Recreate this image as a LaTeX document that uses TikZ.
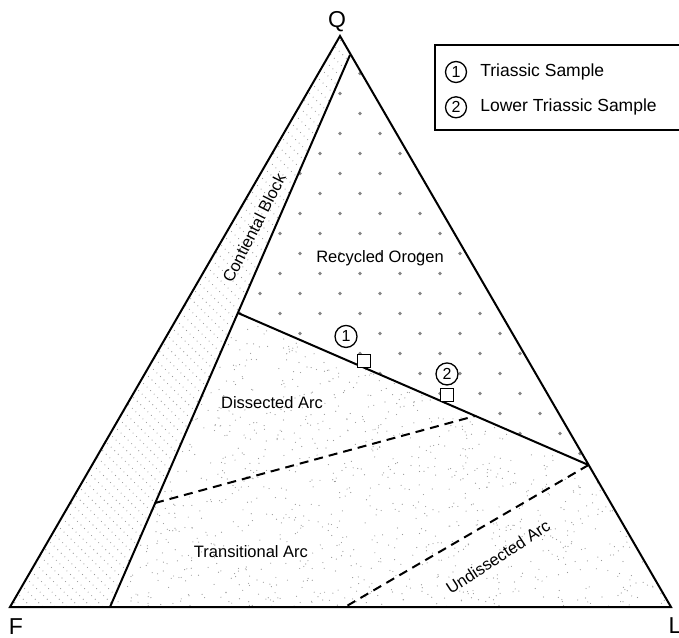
\documentclass[tikz,border=0pt]{standalone}
\usepackage{fontspec}
\setmainfont{Liberation Sans}
\usepackage{tikz}
\usetikzlibrary{positioning}
\definecolor{orogendot}{gray}{0.52}
\definecolor{stippledot}{gray}{0.6}
\tikzstyle{boundary} = [line width=2pt, line join=miter]
\tikzstyle{divide} = [line width=2pt, dash pattern=on 9pt off 6pt]
\tikzstyle{pole} = [inner sep=0pt, font=\fontsize{23}{26}\selectfont]
\tikzstyle{region} = [inner sep=0pt, font=\fontsize{16.5}{19}\selectfont]
\tikzstyle{sample} = [circle, draw, fill=white, line width=1.3pt, minimum size=22pt, inner sep=0pt, font=\fontsize{16}{16}\selectfont]
\tikzstyle{marker} = [rectangle, draw, fill=white, line width=1.8pt, minimum size=13pt, inner sep=0pt]
\tikzstyle{legendtext} = [inner sep=0pt, font=\fontsize{17.5}{20}\selectfont]
\tikzstyle{bandrow} = [stippledot, line width=1.1pt, line cap=round, dash pattern=on 0pt off 5pt]

\begin{document}
\begin{tikzpicture}[x=1pt, y=-1pt]
\useasboundingbox (0,0) rectangle (679,637);

% corners of the QFL triangle
\coordinate (Q) at (340,36);
\coordinate (F) at (10,607);
\coordinate (L) at (671,607);
% field boundaries
\coordinate (cbtop) at (350,55);
\coordinate (cbbot) at (110,607);
\coordinate (rowest) at (238,313);
\coordinate (roeast) at (588.5,465);
\coordinate (trwest) at (155,503);
\coordinate (treast) at (475,416);
\coordinate (uabot) at (345,607);

% continental block fill
\begin{scope}
\clip (F) -- (Q) -- (cbtop) -- (cbbot) -- cycle;
\foreach \c in {-600,-588,...,300}
  \draw[bandrow] (\c+30,30) -- (\c+610,610);
\end{scope}

% recycled orogen fill
\begin{scope}
\clip (cbtop) -- (roeast) -- (rowest) -- cycle;
\foreach \k in {-5,...,17}
  \foreach \m in {-12,...,10}
    \fill[orogendot] (340+20*\k+40*\m,133.5+20*\k) circle (1.9);
\end{scope}

% magmatic arc fill
\begin{scope}
\clip (cbbot) -- (rowest) -- (roeast) -- (L) -- cycle;
\pgfmathsetseed{42}
\foreach \i in {1,...,1700}{
  \pgfmathsetmacro{\dotx}{110+561*rnd}
  \pgfmathsetmacro{\doty}{313+294*rnd}
  \fill[stippledot] (\dotx,\doty) circle (0.6);
}
\end{scope}

\draw[boundary] (F) -- (L) -- (Q) -- cycle;
\draw[boundary] (cbtop) -- (cbbot);
\draw[boundary] (rowest) -- (roeast);
\draw[divide] (trwest) -- (treast);
\draw[divide] (roeast) -- (uabot);

\node (Qlabel) [pole, above=4pt of Q, xshift=-3pt] {Q};
\node (Flabel) [pole, below=11pt of F, xshift=6pt] {F};
\node (Llabel) [pole, below=10pt of L, xshift=4pt] {L};

\node (orogen) [region] at (380,258) {Recycled Orogen};
\node (dissected) [region] at (272,403) {Dissected Arc};
\node (transitional) [region] at (251,552) {Transitional Arc};
\node (undissected) [region, rotate=33] at (498,557) {Undissected Arc};
\node (continental) [region, rotate=63] at (254,228) {Contiental Block};

\node (sq1) [marker] at (364,361) {};
\node (sq2) [marker] at (447,395) {};
\node (no1) [sample, above=5.5pt of sq1, xshift=-18pt] {1};
\node (no2) [sample, above=2pt of sq2] {2};

\node (legend) [draw, line width=1.5pt, minimum width=248pt, minimum height=85pt, anchor=north west] at (434,44) {};
\node (key1) [sample, minimum size=21pt] at (456,72) {1};
\node (key1text) [legendtext, right=13pt of key1] {Triassic Sample};
\node (key2) [sample, minimum size=21pt, below=13pt of key1] {2};
\node (key2text) [legendtext, right=13pt of key2] {Lower Triassic Sample};
\end{tikzpicture}
\end{document}
